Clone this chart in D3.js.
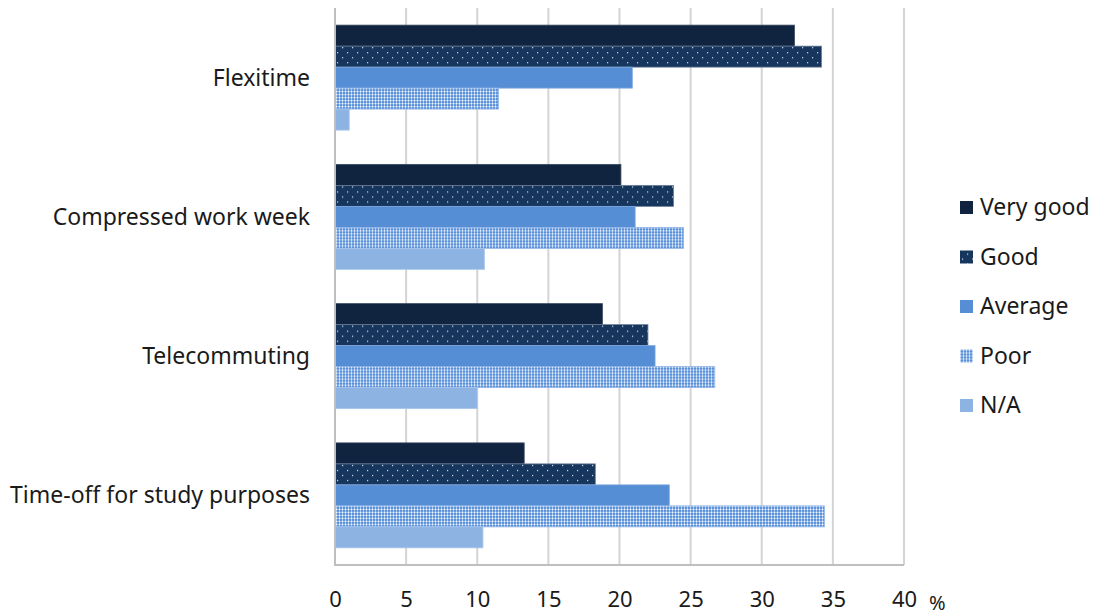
<!DOCTYPE html>
<html>
<head>
<meta charset="utf-8">
<script src="https://cdn.jsdelivr.net/npm/d3@7"></script>
<style>
  html, body { margin: 0; padding: 0; background: #fff; }
  svg text { font-family: "Noto Sans", "Open Sans", sans-serif; fill: #1a1a1a; }
</style>
</head>
<body>
<svg id="chart" width="1097" height="616"></svg>
<script>
// Work-arrangement categories (top to bottom)
const categories = ["Flexitime", "Compressed work week", "Telecommuting", "Time-off for study purposes"];
// Rating series, in drawing order within each group
const seriesNames = ["Very good", "Good", "Average", "Poor", "N/A"];
// Percent values per series, one per category
const veryGood = [32.3, 20.1, 18.8, 13.3];
const good     = [34.2, 23.8, 22.0, 18.3];
const average  = [20.9, 21.1, 22.5, 23.5];
const poor     = [11.5, 24.5, 26.7, 34.4];
const notAppl  = [1.0, 10.5, 10.0, 10.4];
const xTicks   = [0, 5, 10, 15, 20, 25, 30, 35, 40];

const seriesValues = [veryGood, good, average, poor, notAppl];

const svg = d3.select("#chart");
const margin = { left: 335, right: 193, top: 8, bottom: 51 };
const W = 1097, H = 616;

// Fill patterns
const defs = svg.append("defs");
const pGood = defs.append("pattern").attr("id", "pat-good")
  .attr("patternUnits", "userSpaceOnUse").attr("width", 10).attr("height", 10);
pGood.append("rect").attr("width", 10).attr("height", 10).attr("fill", "#17365d");
pGood.append("rect").attr("x", 2).attr("y", 2).attr("width", 1.2).attr("height", 1.2).attr("fill", "#d8e0ea");
pGood.append("rect").attr("x", 7).attr("y", 7).attr("width", 1.2).attr("height", 1.2).attr("fill", "#d8e0ea");

const pPoor = defs.append("pattern").attr("id", "pat-poor")
  .attr("patternUnits", "userSpaceOnUse").attr("width", 3).attr("height", 3);
pPoor.append("rect").attr("width", 3).attr("height", 3).attr("fill", "#5a91d8");
pPoor.append("rect").attr("x", 0).attr("y", 0).attr("width", 1).attr("height", 3).attr("fill", "#a8c5ee");
pPoor.append("rect").attr("x", 0).attr("y", 0).attr("width", 3).attr("height", 1).attr("fill", "#a8c5ee");
pPoor.append("rect").attr("x", 0).attr("y", 0).attr("width", 1).attr("height", 1).attr("fill", "#ffffff");

const fills = ["#10233f", "url(#pat-good)", "#558ed5", "url(#pat-poor)", "#8db3e2"];
const strokes = ["#3a4a60", "#6a7f9c", "#7fa8df", "#8fb4e6", "#a9c6ec"];

const x = d3.scaleLinear().domain([0, 40]).range([margin.left, W - margin.right]);
const y0 = d3.scaleBand().domain(categories)
  .range([margin.top, H - margin.bottom])
  .paddingInner(0.246).paddingOuter(0.123);
const y1 = d3.scaleBand().domain(seriesNames).range([0, y0.bandwidth()]);

// Vertical gridlines
svg.append("g").selectAll("line").data(xTicks.slice(1)).join("line")
  .attr("x1", d => x(d)).attr("x2", d => x(d))
  .attr("y1", margin.top).attr("y2", H - margin.bottom)
  .attr("stroke", "#d4d4d4").attr("stroke-width", 2);

// Bars
const groups = svg.append("g").selectAll("g").data(categories).join("g")
  .attr("transform", d => `translate(0,${y0(d)})`);
groups.each(function(cat, ci) {
  d3.select(this).selectAll("rect")
    .data(seriesNames.map((s, si) => ({ s, si, v: seriesValues[si][ci] })))
    .join("rect")
    .attr("x", x(0))
    .attr("y", d => y1(d.s))
    .attr("width", d => x(d.v) - x(0))
    .attr("height", y1.bandwidth())
    .attr("fill", d => fills[d.si])
    .attr("stroke", d => strokes[d.si])
    .attr("stroke-width", 0.8);
});

// Axis lines
svg.append("line")
  .attr("x1", x(0)).attr("x2", x(0))
  .attr("y1", margin.top).attr("y2", H - margin.bottom)
  .attr("stroke", "#bfbfbf").attr("stroke-width", 2);
svg.append("line")
  .attr("x1", x(0) - 1).attr("x2", x(40))
  .attr("y1", H - margin.bottom).attr("y2", H - margin.bottom)
  .attr("stroke", "#bfbfbf").attr("stroke-width", 2);

// X tick labels
const xAxis = d3.axisBottom(x).tickValues(xTicks).tickSize(0).tickPadding(0);
const gx = svg.append("g").attr("transform", `translate(0,${H - margin.bottom + 26})`).call(xAxis);
gx.select(".domain").remove();
gx.selectAll("text")
  .attr("font-size", 22)
  .style("font-family", "'Noto Sans', sans-serif")
  .attr("fill", "#1a1a1a");

// Unit label
svg.append("text").attr("x", 929).attr("y", 610)
  .attr("font-size", 20).text("%");

// Category labels
svg.append("g").selectAll("text").data(categories).join("text")
  .attr("x", 310)
  .attr("y", d => y0(d) + y0.bandwidth() / 2)
  .attr("dy", "0.35em")
  .attr("text-anchor", "end")
  .attr("font-size", 23)
  .text(d => d);

// Legend
const legend = svg.append("g").selectAll("g").data(seriesNames).join("g")
  .attr("transform", (d, i) => `translate(960,${207 + i * 49.5})`);
legend.append("rect")
  .attr("x", 0).attr("y", -6).attr("width", 13).attr("height", 13)
  .attr("fill", (d, i) => fills[i]);
legend.append("text")
  .attr("x", 20).attr("y", 0).attr("dy", "0.35em")
  .attr("font-size", 23)
  .text(d => d);
</script>
</body>
</html>
